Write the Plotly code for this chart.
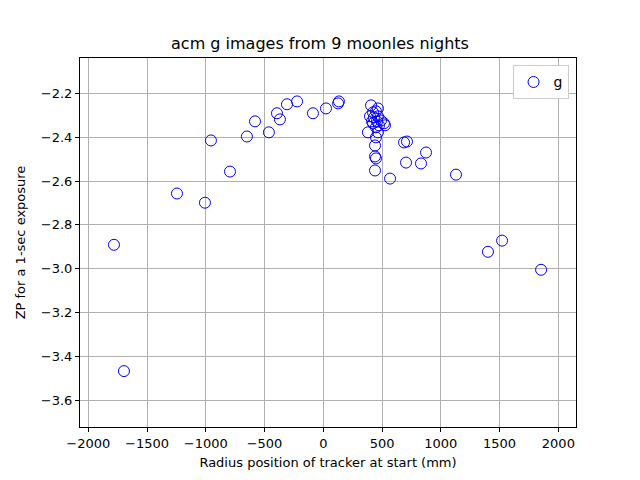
import plotly.graph_objects as go

radius_mm = [-1781, -1696, -1245, -1007, -956, -794, -650, -581, -463, -394, -369,
             -309, -223, -88, 23, 126, 133,
             406, 465, 423, 448, 431, 465, 414, 457, 491, 516, 525, 474, 423, 448, 397,
             380, 465, 448, 440, 440, 448, 440,
             568, 687, 712, 704, 831, 874, 1129, 1401, 1521, 1853]
zp = [-2.891, -3.467, -2.657, -2.699, -2.415, -2.557, -2.397, -2.328, -2.378, -2.291, -2.319,
      -2.250, -2.237, -2.291, -2.269, -2.246, -2.237,
      -2.255, -2.269, -2.287, -2.282, -2.310, -2.305, -2.328, -2.328, -2.324, -2.337, -2.346, -2.346, -2.337, -2.355, -2.305,
      -2.378, -2.378, -2.401, -2.438, -2.488, -2.497, -2.552,
      -2.589, -2.424, -2.420, -2.516, -2.520, -2.470, -2.571, -2.923, -2.872, -3.005]

fig = go.Figure()
fig.add_trace(go.Scatter(
    x=radius_mm, y=zp, mode="markers", name="g",
    marker=dict(symbol="circle-open", size=11, color="blue", line=dict(width=1, color="blue")),
))

axis_common = dict(showline=True, linecolor="black", linewidth=1, mirror=True,
                   showgrid=True, gridcolor="#b0b0b0", gridwidth=1, zeroline=False,
                   ticks="outside", ticklen=4, tickcolor="black", automargin=False,
                   tickfont=dict(family="DejaVu Sans", size=13, color="black"))

fig.update_layout(
    width=640, height=480,
    paper_bgcolor="white", plot_bgcolor="white",
    margin=dict(l=80, r=64, t=58, b=53, autoexpand=False),
    title=dict(text="acm g images from 9 moonles nights", x=0.5, xanchor="center",
               y=1 - 43 / 480, yanchor="middle",
               font=dict(family="DejaVu Sans", size=16, color="black")),
    xaxis=dict(title=dict(text="Radius position of tracker at start (mm)", standoff=8,
                          font=dict(family="DejaVu Sans", size=13, color="black")),
               range=[-2070, 2150], tickvals=[-2000, -1500, -1000, -500, 0, 500, 1000, 1500, 2000],
               **axis_common),
    yaxis=dict(title=dict(text="ZP for a 1-sec exposure", standoff=12,
                          font=dict(family="DejaVu Sans", size=13, color="black")),
               range=[-3.722, -2.039], tickvals=[-3.6, -3.4, -3.2, -3.0, -2.8, -2.6, -2.4, -2.2],
               tickformat=".1f", **axis_common),
    showlegend=True,
    legend=dict(x=0.985, y=0.98, xanchor="right", yanchor="top",
                bgcolor="white", bordercolor="#cccccc", borderwidth=1,
                font=dict(family="DejaVu Sans", size=14, color="black")),
)

fig.write_html("out.html", post_script="document.body.style.margin='0';",
               config={"displayModeBar": False})
